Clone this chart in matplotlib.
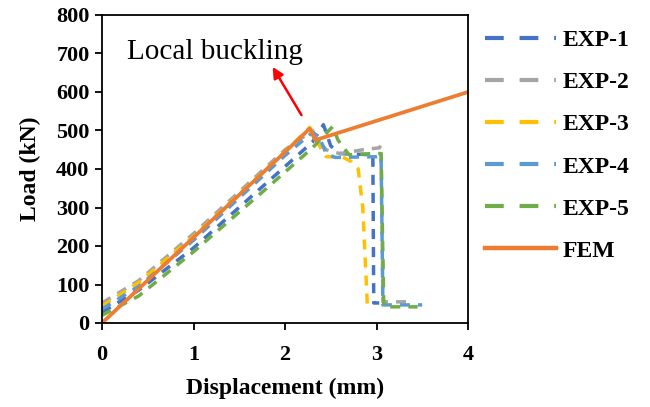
import matplotlib
matplotlib.use("Agg")
import matplotlib.pyplot as plt
from matplotlib.lines import Line2D

# ---- data ----
exp1_x = [0, 0.4, 1.0, 1.8, 2.3, 2.42, 2.5, 2.6, 2.96, 2.97, 3.03]
exp1_y = [28, 85, 195, 364, 470, 515, 460, 440, 437, 52, 52]

exp2_x = [0, 0.4, 1.0, 2.0, 2.3, 2.38, 2.45, 2.6, 2.85, 3.03, 3.05, 3.07, 3.33]
exp2_y = [52, 110, 232, 450, 500, 470, 450, 440, 450, 455, 462, 55, 55]

exp3_x = [0, 0.4, 1.0, 2.0, 2.27, 2.35, 2.45, 2.63, 2.72, 2.8, 2.85, 2.9, 2.97]
exp3_y = [44, 105, 225, 445, 508, 470, 432, 431, 420, 400, 300, 47, 45]

exp4_x = [0, 0.4, 1.0, 2.0, 2.3, 2.38, 2.45, 2.55, 3.0, 3.05, 3.07, 3.5]
exp4_y = [36, 95, 215, 435, 495, 480, 440, 430, 432, 435, 47, 47]

exp5_x = [0, 0.4, 1.0, 1.8, 2.3, 2.52, 2.58, 2.7, 2.96, 3.05, 3.08, 3.45]
exp5_y = [20, 70, 185, 350, 455, 510, 475, 437, 440, 440, 42, 42]

fem_x = [0, 1.0, 2.0, 2.27, 2.33, 4.0]
fem_y = [0, 222, 444, 505, 475, 600]

labels = ["EXP-1", "EXP-2", "EXP-3", "EXP-4", "EXP-5", "FEM"]
colors = ["#4472C4", "#A5A5A5", "#FFC000", "#5B9BD5", "#70AD47", "#ED7D31"]

x_ticks = [0, 1, 2, 3, 4]
y_ticks = [0, 100, 200, 300, 400, 500, 600, 700, 800]

# ---- figure ----
plt.rcParams["font.family"] = ["Liberation Serif", "DejaVu Serif"]
fig = plt.figure(figsize=(6.5, 4.07), dpi=100)
ax = fig.add_axes([102 / 650, 1 - 323 / 407, (468 - 102) / 650, (323 - 15) / 407])

series = [(exp1_x, exp1_y), (exp2_x, exp2_y), (exp3_x, exp3_y),
          (exp4_x, exp4_y), (exp5_x, exp5_y)]
lw = 2.5
for (xs, ys), c in zip(series, colors[:5]):
    ax.plot(xs, ys, color=c, lw=lw, ls=(0, (2.9, 2.3)), dash_capstyle="butt")
ax.plot(fem_x, fem_y, color=colors[5], lw=2.7, solid_capstyle="butt")

ax.set_xlim(0, 4)
ax.set_ylim(0, 800)
ax.set_xticks(x_ticks)
ax.set_yticks(y_ticks)
for lab in ax.get_xticklabels() + ax.get_yticklabels():
    lab.set_fontweight("bold")
    lab.set_fontsize(16)
ax.tick_params(direction="out", length=5, width=1.3, colors="black", pad=4)
ax.tick_params(axis="x", pad=11)
for s in ax.spines.values():
    s.set_linewidth(1.3)
    s.set_color("black")

ax.set_xlabel("Displacement (mm)", fontsize=17, fontweight="bold", labelpad=9)
ax.set_ylabel("Load (kN)", fontsize=17, fontweight="bold", labelpad=11)

ax.text(0.27, 704, "Local buckling", fontsize=21, va="center", ha="left")
ax.annotate("", xy=(1.865, 665), xytext=(2.18, 540),
            arrowprops=dict(arrowstyle="-|>", color="#FF0000", lw=1.8,
                            mutation_scale=16, shrinkA=0, shrinkB=0))

handles = []
for c, l in zip(colors[:5], labels[:5]):
    handles.append(Line2D([], [], color=c, lw=3, ls=(0, (4.5, 3.8))))
handles.append(Line2D([], [], color=colors[5], lw=3.2))
fig.legend(handles, labels, loc="upper left", bbox_to_anchor=(473 / 650, 1 - 18 / 407),
           frameon=False, prop=dict(family="Liberation Serif", weight="bold", size=17),
           handlelength=3.0, handletextpad=0.3, labelspacing=0.87, borderpad=0)

fig.savefig("out.png", dpi=100)
